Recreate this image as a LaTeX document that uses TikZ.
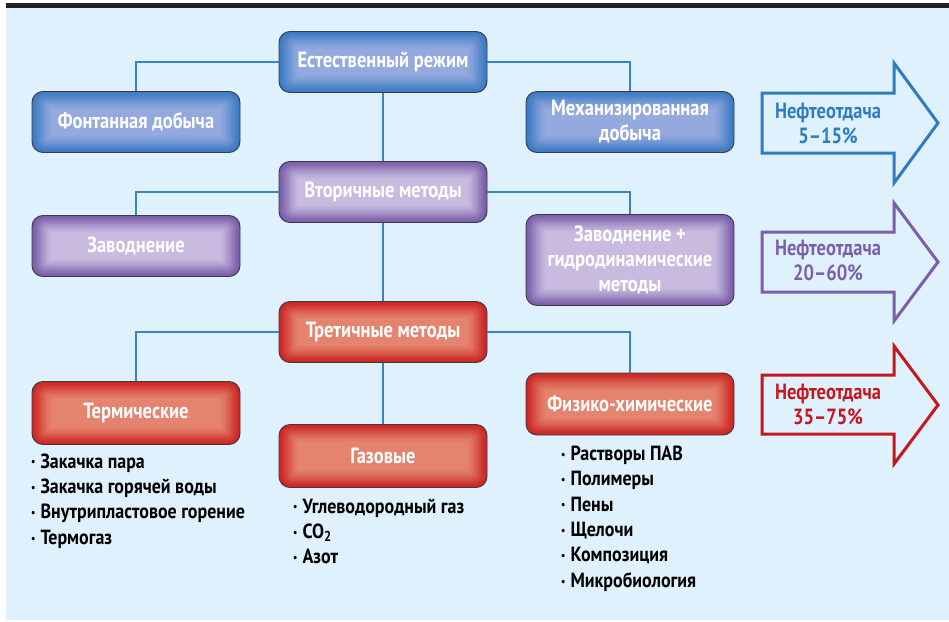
\documentclass[tikz,border=0pt]{standalone}
\usepackage{fontspec}
\setmainfont{PT Sans}[FakeStretch=0.84]
\newfontfamily\listff{PT Sans}[FakeStretch=0.875]
\definecolor{bgblue}{HTML}{DFF1FC}
\definecolor{band}{HTML}{231F20}
\definecolor{conn}{HTML}{3A84C6}
\definecolor{boxline}{HTML}{3A3A48}
\definecolor{blueedge}{HTML}{3B7BC3}
\definecolor{bluecenter}{HTML}{94A9DE}
\definecolor{purpleedge}{HTML}{7A5EA9}
\definecolor{purplecenter}{HTML}{C9BBE0}
\definecolor{rededge}{HTML}{CC2623}
\definecolor{redcenter}{HTML}{E4846E}
\definecolor{arrblue}{HTML}{2F7CC1}
\definecolor{arrpurple}{HTML}{7B5FAA}
\definecolor{arrred}{HTML}{C8161D}
\newcommand\boxfont{\bfseries\fontsize{22}{25}\selectfont}
\newcommand\listfont{\listff\bfseries\fontsize{20.5}{25.4}\selectfont}
\newcommand\bl{{\fontsize{11}{11}\selectfont\raisebox{0.2em}{•}}\hspace{5pt}}
\tikzset{
  box/.style={rounded corners=11pt, draw=boxline, line width=0.9pt,
    minimum width=208pt, minimum height=61pt, text=white, font=\boxfont,
    align=center, inner sep=2pt},
  glow/.style 2 args={fill=#1, path picture={
    \foreach \i/\p in {1/8,2/18,3/30,4/42,5/54,6/65,7/75,8/84,9/92,10/100}{
      \fill[#2!\p!#1, rounded corners={max(2,11-1.1*\i)*1pt}]
        ([shift={(\i*1.9pt,\i*1.7pt)}]path picture bounding box.south west) rectangle
        ([shift={(-\i*1.9pt,-\i*1.7pt)}]path picture bounding box.north east);}}},
  bluebox/.style={box, glow={blueedge}{bluecenter}},
  purplebox/.style={box, glow={purpleedge}{purplecenter}},
  redbox/.style={box, glow={rededge}{redcenter}},
  connector/.style={draw=conn, line width=1.8pt},
  arrowline/.style={line width=3pt, miter limit=10},
  arrtext/.style={font=\boxfont, align=center},
  listnode/.style={font=\listfont, align=left, anchor=west, inner sep=0pt}
}
\begin{document}
\begin{tikzpicture}[x=1pt,y=-1pt]
\useasboundingbox (0,0) rectangle (949,621);
\fill[bgblue] (6,8) rectangle (949,620);
\fill[band] (6,3) rectangle (949,8);

% nodes
\node[bluebox] (nat) at (383,62) {Естественный режим};
\node[bluebox] (font) at (136,122) {Фонтанная добыча};
\node[bluebox] (mech) at (630,122) {Механизированная\\добыча};
\node[purplebox] (sec) at (383,192) {Вторичные методы};
\node[purplebox] (flood) at (136,246) {Заводнение};
\node[purplebox, minimum height=91pt] (hydro) at (630,260) {Заводнение +\\гидродинамические\\методы};
\node[redbox] (ter) at (383,332) {Третичные методы};
\node[redbox, minimum height=63pt] (therm) at (136,413) {Термические};
\node[redbox, minimum height=63pt] (gas) at (383,456) {Газовые};
\node[redbox, minimum height=62pt] (phys) at (630,404) {Физико-химические};

% connectors
\draw[connector] (nat.west) -| (font.north);
\draw[connector] (nat.east) -| (mech.north);
\draw[connector] (nat.south) -- (sec.north);
\draw[connector] (sec.west) -| (flood.north);
\draw[connector] (sec.east) -| (hydro.north);
\draw[connector] (sec.south) -- (ter.north);
\draw[connector] (ter.west) -| (therm.north);
\draw[connector] (ter.east) -| (phys.north);
\draw[connector] (ter.south) -- (gas.north);

% lists
\node[listnode] (lt) at (31,501) {\bl Закачка пара\\\bl Закачка горячей воды\\\bl Внутрипластовое горение\\\bl Термогаз};
\node[listnode] (lg) at (293,531.5) {\bl Углеводородный газ\\\bl CO\textsubscript{2}\\\bl Азот};
\node[listnode] (lp) at (561,518.5) {\bl Растворы ПАВ\\\bl Полимеры\\\bl Пены\\\bl Щелочи\\\bl Композиция\\\bl Микробиология};

% arrows
\draw[arrowline, draw=arrblue] (762,93) -- (894,93) -- (894,63) -- (938,123) -- (894,183) -- (894,153) -- (762,153) -- cycle;
\node[arrtext, text=arrblue] (r1) at (828,123) {Нефтеотдача\\5–15\%};
\draw[arrowline, draw=arrpurple] (762,232) -- (894,232) -- (894,203) -- (938,262) -- (894,321) -- (894,292) -- (762,292) -- cycle;
\node[arrtext, text=arrpurple] (r2) at (828,260) {Нефтеотдача\\20–60\%};
\draw[arrowline, draw=arrred] (762,375) -- (894,375) -- (894,346) -- (938,405) -- (894,464) -- (894,434) -- (762,434) -- cycle;
\node[arrtext, text=arrred] (r3) at (828,404) {Нефтеотдача\\35–75\%};
\end{tikzpicture}
\end{document}
